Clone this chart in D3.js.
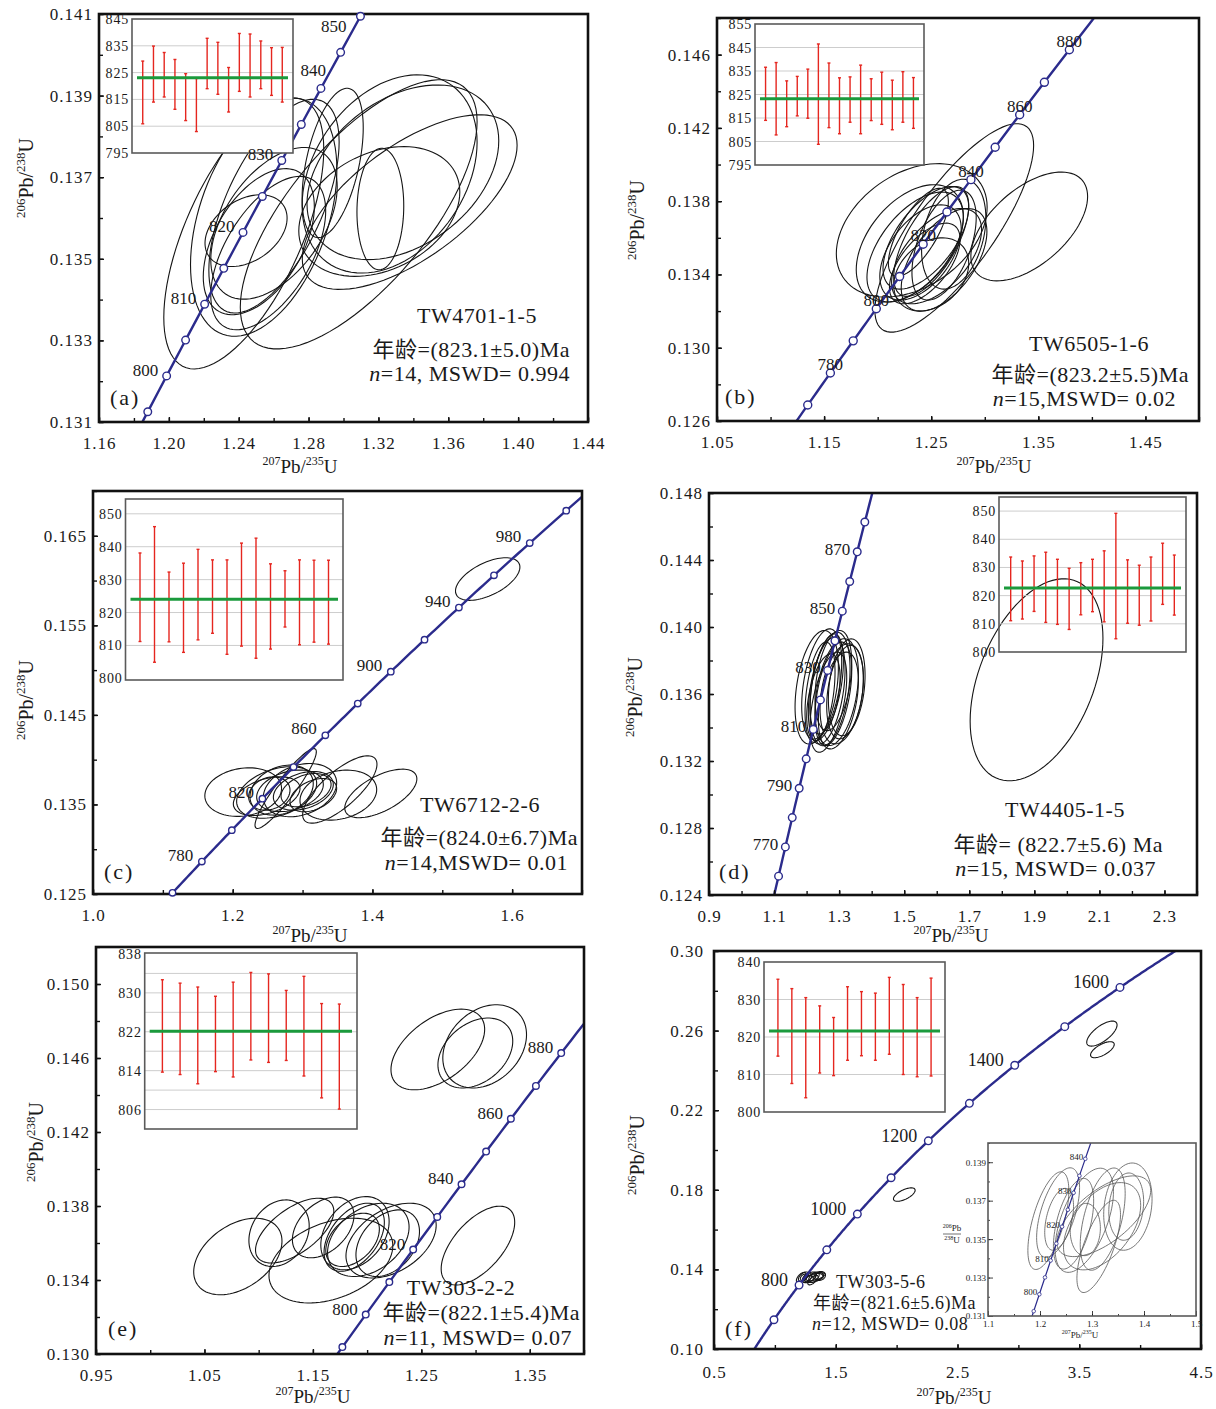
<!DOCTYPE html>
<html lang="zh">
  <head>
    <meta charset="utf-8" />
    <title>Zircon U-Pb concordia diagrams</title>
    <script src="https://cdnjs.cloudflare.com/ajax/libs/d3/7.8.5/d3.min.js"></script>
    <style type="text/css">
      body { margin: 0; background: #fff; }
      svg text { font-family: "Liberation Serif", "Times New Roman", "Noto Sans CJK SC", serif; fill: #1a1a1a; }
      .frame { fill: none; stroke: #111; stroke-width: 2.6; }
      .axis text { font-size: 17px; letter-spacing: 1px; }
      .axis line { stroke: #111; stroke-width: 1.4; }
      .ellipse { fill: none; stroke: #151515; stroke-width: 1.1; }
      .concordia { fill: none; stroke: #2b2b8c; stroke-width: 2.4; }
      .marker { fill: #fff; stroke: #2b2b8c; stroke-width: 1.4; }
      .inset-frame { fill: none; stroke: #5a5a5a; stroke-width: 1.6; }
      .inset-grid { stroke: #cdcdcd; stroke-width: 1; }
      .inset-bar { stroke: #e5261f; stroke-width: 1.4; }
      .inset-mean { stroke: #1b9a3c; stroke-width: 3; }
      .inset-label { font-size: 14px; letter-spacing: 0.8px; }
      .note { letter-spacing: 0.5px; }
      .mini .ellipse { stroke: #555; stroke-width: 0.8; }
      .mini .concordia { stroke-width: 1.2; }
      .mini .marker { stroke-width: 0.8; }
      .mini .axis text { font-size: 9px; letter-spacing: 0; }
      .mini .axis line { stroke-width: 0.8; }
    </style>
  </head>

  <body>
    <svg id="chart" width="1216" height="1409"></svg>

    <script>
      // Decay constants (1/yr) used to place the concordia curve and its age markers.
      const LAMBDA_238 = 1.55125e-10;
      const LAMBDA_235 = 9.8485e-10;

      // Error ellipses: [207Pb/235U, 206Pb/238U, half-width x, half-height y, rho]
      const ellipsesA = [
        [1.2429, 0.13562, 0.0458, 0.00332, 0.62],
        [1.2543, 0.13602, 0.0419, 0.00292, 0.40],
        [1.2602, 0.13629, 0.0373, 0.00262, 0.60],
        [1.2442, 0.13569, 0.0235, 0.00088, 0.35],
        [1.2515, 0.13542, 0.0318, 0.00179, 0.48],
        [1.2602, 0.13587, 0.0362, 0.00186, 0.48],
        [1.2569, 0.13514, 0.0329, 0.00188, 0.55],
        [1.3264, 0.13708, 0.0501, 0.00243, 0.32],
        [1.3379, 0.13639, 0.0615, 0.00214, 0.65],
        [1.3211, 0.13622, 0.0134, 0.00149, 0.05],
        [1.3087, 0.13609, 0.0678, 0.00330, 0.69],
        [1.3340, 0.13712, 0.0549, 0.00214, 0.36],
        [1.2938, 0.13735, 0.0175, 0.00183, 0.47],
        [1.3205, 0.13616, 0.0461, 0.00159, 0.30]
      ];
      const ellipsesB = [
        [1.3415, 0.13662, 0.0545, 0.00297, 0.55],
        [1.2715, 0.13654, 0.0741, 0.00569, 0.79],
        [1.2318, 0.13641, 0.0704, 0.00364, 0.35],
        [1.235, 0.1355, 0.045, 0.0030, 0.55],
        [1.245, 0.1360, 0.040, 0.0028, 0.60],
        [1.240, 0.1352, 0.038, 0.0026, 0.50],
        [1.250, 0.1358, 0.035, 0.0030, 0.65],
        [1.230, 0.1357, 0.050, 0.0032, 0.45],
        [1.255, 0.1350, 0.042, 0.0026, 0.55],
        [1.262, 0.1356, 0.030, 0.0030, 0.50],
        [1.244, 0.1346, 0.033, 0.0022, 0.60],
        [1.262, 0.1348, 0.040, 0.0028, 0.55],
        [1.238, 0.1363, 0.028, 0.0024, 0.70],
        [1.271, 0.1362, 0.030, 0.0030, 0.30],
        [1.250, 0.1340, 0.035, 0.0020, 0.30]
      ];
      const ellipsesC = [
        [1.565, 0.16017, 0.0461, 0.00238, 0.56],
        [1.412, 0.13623, 0.0516, 0.00271, 0.60],
        [1.3533, 0.13667, 0.0532, 0.00376, 0.75],
        [1.215, 0.13638, 0.0549, 0.00271, 0.15],
        [1.2758, 0.13678, 0.0439, 0.00446, 0.92],
        [1.270, 0.13660, 0.0453, 0.00279, 0.26],
        [1.2963, 0.13660, 0.0525, 0.00297, 0.27],
        [1.3011, 0.13652, 0.0429, 0.00216, 0.33],
        [1.2486, 0.13593, 0.0477, 0.00216, 0.40],
        [1.3512, 0.13604, 0.0549, 0.00279, 0.22],
        [1.2524, 0.13622, 0.0296, 0.00186, 0.20],
        [1.2820, 0.13652, 0.0477, 0.00232, 0.30],
        [1.3050, 0.13659, 0.0358, 0.00186, 0.35],
        [1.2629, 0.13634, 0.0573, 0.00288, 0.35],
        [1.3154, 0.13604, 0.0334, 0.00186, 0.40]
      ];
      const ellipsesD = [
        [1.2311, 0.13640, 0.0666, 0.00339, 0.35],
        [1.2464, 0.13660, 0.0615, 0.00329, 0.40],
        [1.2618, 0.13620, 0.0564, 0.00319, 0.40],
        [1.2721, 0.13630, 0.0615, 0.00339, 0.35],
        [1.2823, 0.13601, 0.0564, 0.00309, 0.45],
        [1.2926, 0.13611, 0.0666, 0.00319, 0.35],
        [1.3079, 0.13601, 0.0666, 0.00299, 0.30],
        [1.3182, 0.13611, 0.0564, 0.00279, 0.30],
        [1.2516, 0.13581, 0.0513, 0.00259, 0.45],
        [1.2669, 0.13551, 0.0564, 0.00299, 0.50],
        [1.2977, 0.13561, 0.0615, 0.00289, 0.40],
        [1.2413, 0.13611, 0.0461, 0.00299, 0.40],
        [1.2823, 0.13680, 0.0564, 0.00299, 0.35],
        [1.3233, 0.13640, 0.0564, 0.00289, 0.25],
        [1.2618, 0.13660, 0.0513, 0.00299, 0.45],
        [1.9068, 0.13685, 0.2041, 0.00603, 0.41]
      ];
      const ellipsesE = [
        [1.2652, 0.14646, 0.0432, 0.00218, 0.50],
        [1.3084, 0.14663, 0.0386, 0.00225, 0.28],
        [1.2998, 0.14627, 0.0345, 0.00189, 0.34],
        [1.3022, 0.13586, 0.0339, 0.00213, 0.59],
        [1.0808, 0.13527, 0.0407, 0.00207, 0.40],
        [1.1666, 0.13505, 0.0571, 0.00229, 0.35],
        [1.1188, 0.13653, 0.0278, 0.00180, 0.22],
        [1.1332, 0.13667, 0.0361, 0.00175, 0.60],
        [1.1595, 0.13684, 0.0284, 0.00164, 0.40],
        [1.1888, 0.13653, 0.0315, 0.00198, 0.32],
        [1.1881, 0.13631, 0.0278, 0.00184, 0.44],
        [1.2011, 0.13617, 0.0376, 0.00198, 0.35],
        [1.2221, 0.13613, 0.0416, 0.00202, 0.41],
        [1.1866, 0.13617, 0.0247, 0.00144, 0.40],
        [1.2190, 0.13599, 0.0293, 0.00180, 0.35]
      ];
      // TW303-5-6: the concordant group (also drawn in the small zoomed plot) and three older grains
      const ellipsesF = [
        [1.2161, 0.13596, 0.0394, 0.00254, 0.61],
        [1.2348, 0.13638, 0.0413, 0.00233, 0.56],
        [1.2368, 0.13603, 0.0277, 0.00161, 0.42],
        [1.2645, 0.13580, 0.0387, 0.00236, 0.50],
        [1.2852, 0.13598, 0.0561, 0.00271, 0.55],
        [1.2871, 0.13550, 0.0290, 0.00136, 0.05],
        [1.3206, 0.13604, 0.0432, 0.00266, 0.50],
        [1.3129, 0.13462, 0.0419, 0.00240, 0.69],
        [1.3690, 0.13669, 0.0465, 0.00227, 0.18],
        [1.3658, 0.13669, 0.0335, 0.00175, 0.15],
        [1.3226, 0.13619, 0.0903, 0.00210, 0.64],
        [1.3194, 0.13567, 0.0742, 0.00227, 0.48]
      ];
      const ellipsesFOld = [
        [2.063, 0.1776, 0.089, 0.00337, 0.64],
        [3.686, 0.2585, 0.1245, 0.00629, 0.69],
        [3.690, 0.2504, 0.0973, 0.00402, 0.66]
      ];

      // Concordia age markers (Ma) and the ones that carry a label
      const markersA = [795, 800, 805, 810, 815, 820, 825, 830, 835, 840, 845, 850];
      const markerLabelsA = [800, 810, 820, 830, 840, 850];
      const markersB = [770, 780, 790, 800, 810, 820, 830, 840, 850, 860, 870, 880];
      const markerLabelsB = [780, 800, 820, 840, 860, 880];
      const markersC = [760, 780, 800, 820, 840, 860, 880, 900, 920, 940, 960, 980, 1000];
      const markerLabelsC = [780, 820, 860, 900, 940, 980];
      const markersD = [760, 770, 780, 790, 800, 810, 820, 830, 840, 850, 860, 870, 880];
      const markerLabelsD = [770, 790, 810, 830, 850, 870];
      const markersE = [790, 800, 810, 820, 830, 840, 850, 860, 870, 880];
      const markerLabelsE = [800, 820, 840, 860, 880];
      const markersF = [700, 800, 900, 1000, 1100, 1200, 1300, 1400, 1500, 1600];
      const markerLabelsF = [800, 1000, 1200, 1400, 1600];
      const markersMini = [795, 800, 805, 810, 815, 820, 825, 830, 835, 840, 845];
      const markerLabelsMini = [800, 810, 820, 830, 840];

      // Axis tick labels
      const xLabelsA = [1.16, 1.20, 1.24, 1.28, 1.32, 1.36, 1.40, 1.44];
      const yLabelsA = [0.131, 0.133, 0.135, 0.137, 0.139, 0.141];
      const xLabelsB = [1.05, 1.15, 1.25, 1.35, 1.45];
      const yLabelsB = [0.126, 0.130, 0.134, 0.138, 0.142, 0.146];
      const xLabelsC = [1.0, 1.2, 1.4, 1.6];
      const yLabelsC = [0.125, 0.135, 0.145, 0.155, 0.165];
      const xLabelsD = [0.9, 1.1, 1.3, 1.5, 1.7, 1.9, 2.1, 2.3];
      const yLabelsD = [0.124, 0.128, 0.132, 0.136, 0.140, 0.144, 0.148];
      const xLabelsE = [0.95, 1.05, 1.15, 1.25, 1.35];
      const yLabelsE = [0.130, 0.134, 0.138, 0.142, 0.146, 0.150];
      const xLabelsF = [0.5, 1.5, 2.5, 3.5, 4.5];
      const yLabelsF = [0.10, 0.14, 0.18, 0.22, 0.26, 0.30];
      const xLabelsMini = [1.1, 1.2, 1.3, 1.4, 1.5];
      const yLabelsMini = [0.131, 0.133, 0.135, 0.137, 0.139];

      // Weighted-mean insets: 206Pb/238U age error bars [low, high] (Ma) and the mean
      const barsA = [[805.9, 829.3], [814.0, 834.9], [815.9, 832.5], [811.3, 829.9], [807.1, 824.6],
        [803.0, 822.8], [819.0, 837.8], [816.9, 836.3], [810.3, 826.9], [818.0, 839.6],
        [815.9, 839.4], [819.0, 836.8], [816.5, 834.3], [814.0, 834.4]];
      const meanA = 823.1;
      const barsB = [[814.0, 836.6], [807.8, 838.6], [811.3, 830.8], [815.9, 832.7], [814.9, 835.8],
        [803.8, 846.5], [810.9, 838.4], [808.3, 832.1], [813.2, 832.5], [808.3, 837.5],
        [813.9, 831.7], [812.3, 834.5], [810.0, 831.1], [813.2, 834.7], [810.6, 832.2]];
      const meanB = 823.2;
      const barsC = [[811.2, 838.1], [804.9, 846.1], [811.1, 832.3], [807.9, 835.0], [811.7, 839.2],
        [813.7, 836.0], [807.3, 836.0], [809.8, 841.1], [806.1, 842.6], [808.9, 834.8],
        [815.6, 832.7], [810.2, 836.0], [811.0, 835.9], [810.4, 835.9]];
      const meanC = 824.0;
      const barsD = [[811.1, 833.7], [811.7, 832.3], [814.4, 834.1], [810.5, 835.4], [809.8, 832.9],
        [808.0, 829.7], [813.2, 831.7], [814.3, 832.9], [810.7, 835.9], [804.7, 849.2],
        [810.2, 832.7], [809.5, 830.8], [811.0, 833.7], [816.9, 838.6], [813.1, 834.4]];
      const meanD = 822.7;
      const barsE = [[813.7, 832.7], [813.2, 832.0], [811.3, 831.2], [813.8, 829.3], [812.7, 832.2],
        [816.2, 834.2], [815.7, 833.9], [816.1, 830.5], [812.9, 833.4], [808.4, 827.8], [806.1, 827.7]];
      const meanE = 822.1;
      const barsF = [[814.9, 835.4], [807.6, 832.9], [803.8, 830.5], [810.4, 828.3], [809.7, 825.2],
        [813.8, 833.4], [815.0, 832.1], [813.8, 831.7], [815.4, 835.9], [810.0, 834.0],
        [809.4, 830.5], [809.6, 835.7]];
      const meanF = 821.6;

      const insetLabelsA = [795, 805, 815, 825, 835, 845];
      const insetGridA = [805, 815, 825, 835];
      const insetLabelsB = [795, 805, 815, 825, 835, 845, 855];
      const insetGridB = [805, 815, 825, 835, 845];
      const insetLabelsC = [800, 810, 820, 830, 840, 850];
      const insetGridC = [810, 820, 830, 840, 850];
      const insetLabelsD = [800, 810, 820, 830, 840, 850];
      const insetGridD = [810, 820, 830, 840, 850];
      const insetLabelsE = [806, 814, 822, 830, 838];
      const insetGridE = [806, 810, 814, 818, 822, 826, 830, 834];
      const insetLabelsF = [800, 810, 820, 830, 840];
      const insetGridF = [810, 820, 830];

      const svg = d3.select('#chart');
      const curveAges = d3.range(550, 1800, 2);

      function concordia (ageMa) {
        return [Math.exp(LAMBDA_235 * ageMa * 1e6) - 1, Math.exp(LAMBDA_238 * ageMa * 1e6) - 1];
      }

      const angles = d3.range(0, 360, 4).map(d => d * Math.PI / 180);
      function ellipsePath (e, x, y) {
        const [cx, cy, sx, sy, rho] = e;
        const k = Math.sqrt(1 - rho * rho);
        return d3.line()
          .curve(d3.curveLinearClosed)
          .x(t => x(cx + sx * Math.cos(t)))
          .y(t => y(cy + sy * (rho * Math.cos(t) + k * Math.sin(t))))(angles);
      }

      function steps (domain, step) {
        const n = Math.round((domain[1] - domain[0]) / step);
        return d3.range(n + 1).map(i => domain[0] + i * step);
      }

      // "206Pb/238U" style ratio with superscript mass numbers
      function ratioText (text, top, bottom, big, small) {
        text.append('tspan').style('font-size', small + 'px').attr('dy', -big * 0.4).text(top);
        text.append('tspan').style('font-size', big + 'px').attr('dy', big * 0.4).text('Pb/');
        text.append('tspan').style('font-size', small + 'px').attr('dy', -big * 0.4).text(bottom);
        text.append('tspan').style('font-size', big + 'px').attr('dy', big * 0.4).text('U');
      }

      function drawAxes (g, p, x, y) {
        const box = p.box;
        const xAxis = d3.axisBottom(x).tickValues(p.xLabels).tickSizeInner(-5).tickSizeOuter(0)
          .tickPadding(p.xPad || 15).tickFormat(d3.format(p.xFmt));
        const yAxis = d3.axisLeft(y).tickValues(p.yLabels).tickSizeInner(-5).tickSizeOuter(0)
          .tickPadding(p.yPad || 6).tickFormat(d3.format(p.yFmt));
        const xMinor = d3.axisBottom(x).tickValues(steps(p.xDomain, p.xMinor))
          .tickSizeInner(-p.minorLen).tickSizeOuter(0).tickFormat('');
        const yMinor = d3.axisLeft(y).tickValues(steps(p.yDomain, p.yMinor))
          .tickSizeInner(-p.minorLen).tickSizeOuter(0).tickFormat('');

        [xMinor, xAxis].forEach(a => g.append('g').attr('class', 'axis')
          .attr('transform', `translate(0,${box.bottom})`).call(a)
          .call(s => s.select('.domain').remove()));
        [yMinor, yAxis].forEach(a => g.append('g').attr('class', 'axis')
          .attr('transform', `translate(${box.left},0)`).call(a)
          .call(s => s.select('.domain').remove()));

        g.append('rect').attr('class', p.frameClass || 'frame')
          .attr('x', box.left).attr('y', box.top)
          .attr('width', box.right - box.left).attr('height', box.bottom - box.top);
      }

      function drawCurves (g, p, x, y) {
        const box = p.box;
        const clipId = 'clip-' + p.id;
        svg.append('clipPath').attr('id', clipId).append('rect')
          .attr('x', box.left).attr('y', box.top)
          .attr('width', box.right - box.left).attr('height', box.bottom - box.top);

        const plot = g.append('g').attr('clip-path', `url(#${clipId})`);
        plot.selectAll('path.ellipse').data(p.ellipses).join('path')
          .attr('class', 'ellipse')
          .attr('d', e => ellipsePath(e, x, y));

        plot.append('path')
          .datum(curveAges.map(concordia))
          .attr('class', 'concordia')
          .attr('d', d3.line().x(d => x(d[0])).y(d => y(d[1])));
      }

      function drawMarkers (g, p, x, y) {
        const inside = t => {
          const [cx, cy] = concordia(t);
          return cx >= p.xDomain[0] && cx <= p.xDomain[1] && cy >= p.yDomain[0] && cy <= p.yDomain[1];
        };

        g.selectAll('circle.marker').data(p.markers.filter(inside)).join('circle')
          .attr('class', 'marker')
          .attr('r', p.markerR)
          .attr('cx', t => x(concordia(t)[0]))
          .attr('cy', t => y(concordia(t)[1]));

        g.selectAll('text.age-label').data(p.markerLabels).join('text')
          .attr('class', 'age-label')
          .style('font-size', p.labelSize + 'px')
          .attr('text-anchor', p.labelAnchor)
          .attr('x', t => x(concordia(t)[0]) + (p.labelOverrides[t] || [p.labelDx])[0])
          .attr('y', t => y(concordia(t)[1]) + (p.labelOverrides[t] || [0, p.labelDy])[1])
          .text(t => t);
      }

      function drawInset (ins) {
        const b = ins.box;
        const g = svg.append('g');
        if (ins.fill) {
          g.append('rect').attr('x', b.left).attr('y', b.top)
            .attr('width', b.right - b.left).attr('height', b.bottom - b.top).attr('fill', '#fff');
        }
        const xi = d3.scalePoint().domain(d3.range(ins.bars.length)).range([b.left, b.right]).padding(1);
        const yi = d3.scaleLinear().domain(ins.domain).range([b.bottom, b.top]);

        g.selectAll('line.inset-grid').data(ins.grid).join('line')
          .attr('class', 'inset-grid')
          .attr('x1', b.left).attr('x2', b.right)
          .attr('y1', d => yi(d)).attr('y2', d => yi(d));

        const bar = g.selectAll('g.bar').data(ins.bars).join('g').attr('class', 'bar');
        bar.append('line').attr('class', 'inset-bar')
          .attr('x1', (d, i) => xi(i)).attr('x2', (d, i) => xi(i))
          .attr('y1', d => yi(d[0])).attr('y2', d => yi(d[1]));
        [0, 1].forEach(k => bar.append('line').attr('class', 'inset-bar').attr('stroke-width', 1)
          .attr('x1', (d, i) => xi(i) - 1.5).attr('x2', (d, i) => xi(i) + 1.5)
          .attr('y1', d => yi(d[k])).attr('y2', d => yi(d[k])));

        g.append('line').attr('class', 'inset-mean')
          .attr('x1', b.left + 5).attr('x2', b.right - 5)
          .attr('y1', yi(ins.mean)).attr('y2', yi(ins.mean));

        g.append('rect').attr('class', 'inset-frame')
          .attr('x', b.left).attr('y', b.top)
          .attr('width', b.right - b.left).attr('height', b.bottom - b.top);

        g.selectAll('text.inset-label').data(ins.labels).join('text')
          .attr('class', 'inset-label')
          .attr('text-anchor', 'end')
          .attr('x', b.left - 3)
          .attr('y', d => yi(d) + 5)
          .text(d => d);
      }

      function drawNotes (n) {
        const g = svg.append('g').style('font-size', n.size + 'px');
        g.append('text').attr('class', 'note').attr('x', n.sampleAt[0]).attr('y', n.sampleAt[1])
          .attr('text-anchor', n.sampleAt[2]).text(n.sample);
        g.append('text').attr('class', 'note').attr('x', n.ageAt[0]).attr('y', n.ageAt[1])
          .attr('text-anchor', n.ageAt[2]).text(n.age);
        const stats = g.append('text').attr('class', 'note').attr('x', n.statsAt[0]).attr('y', n.statsAt[1])
          .attr('text-anchor', n.statsAt[2]);
        stats.append('tspan').attr('font-style', 'italic').text('n');
        stats.append('tspan').text(n.stats);
        g.append('text').style('font-size', '22px').attr('letter-spacing', 2)
          .attr('x', n.letterAt[0]).attr('y', n.letterAt[1]).text(n.letter);
      }

      function drawPanel (p) {
        const g = svg.append('g');
        const x = d3.scaleLinear().domain(p.xDomain).range([p.box.left, p.box.right]);
        const y = d3.scaleLinear().domain(p.yDomain).range([p.box.bottom, p.box.top]);
        drawCurves(g, p, x, y);
        drawAxes(g, p, x, y);

        ratioText(g.append('text').attr('text-anchor', 'middle')
          .attr('transform', `translate(${p.yTitle[0]},${p.yTitle[1]}) rotate(-90)`), '206', '238', 20, 13);
        ratioText(g.append('text').attr('text-anchor', 'middle')
          .attr('x', p.xTitle[0]).attr('y', p.xTitle[1]), '207', '235', 19, 12);

        drawInset(p.inset);
        drawMarkers(svg.append('g'), p, x, y);
        drawNotes(p.notes);
      }

      const panels = [
        {
          id: 'a', box: { left: 99, right: 588, top: 14, bottom: 422 },
          xDomain: [1.16, 1.44], yDomain: [0.131, 0.141], xLabels: xLabelsA, yLabels: yLabelsA,
          xMinor: 0.02, yMinor: 0.001, minorLen: 4, xFmt: '.2f', yFmt: '.3f',
          ellipses: ellipsesA, markers: markersA, markerLabels: markerLabelsA, markerR: 3.8,
          labelSize: 17, labelAnchor: 'end', labelDx: -8.5, labelDy: 0,
          labelOverrides: { 840: [5, -12], 850: [-14, 16] },
          yTitle: [33, 178], xTitle: [300, 473],
          inset: { box: { left: 132, right: 293, top: 19, bottom: 153 }, domain: [795, 845],
            labels: insetLabelsA, grid: insetGridA, bars: barsA, mean: meanA, fill: true },
          notes: { size: 22, sample: 'TW4701-1-5', age: '年龄=(823.1±5.0)Ma', stats: '=14, MSWD= 0.994', letter: '(a)',
            sampleAt: [477, 323, 'middle'], ageAt: [570, 357, 'end'], statsAt: [570, 381, 'end'], letterAt: [110, 405] }
        },
        {
          id: 'b', box: { left: 717, right: 1199, top: 18, bottom: 421 },
          xDomain: [1.05, 1.50], yDomain: [0.126, 0.148], xLabels: xLabelsB, yLabels: yLabelsB,
          xMinor: 0.05, yMinor: 0.002, minorLen: 4, xFmt: '.2f', yFmt: '.3f',
          ellipses: ellipsesB, markers: markersB, markerLabels: markerLabelsB, markerR: 4,
          labelSize: 17, labelAnchor: 'middle', labelDx: 0, labelDy: -3, labelOverrides: {},
          yTitle: [644, 220], xTitle: [994, 473],
          inset: { box: { left: 755, right: 924, top: 24, bottom: 165 }, domain: [795, 855],
            labels: insetLabelsB, grid: insetGridB, bars: barsB, mean: meanB, fill: true },
          notes: { size: 22, sample: 'TW6505-1-6', age: '年龄=(823.2±5.5)Ma', stats: '=15,MSWD= 0.02', letter: '(b)',
            sampleAt: [1089, 351, 'middle'], ageAt: [1189, 382, 'end'], statsAt: [1176, 406, 'end'], letterAt: [725, 404] }
        },
        {
          id: 'c', box: { left: 93, right: 582, top: 491, bottom: 894 },
          xDomain: [1.0, 1.7], yDomain: [0.125, 0.170], xLabels: xLabelsC, yLabels: yLabelsC,
          xMinor: 0.1, yMinor: 0.005, minorLen: 4, xFmt: '.1f', yFmt: '.3f',
          ellipses: ellipsesC, markers: markersC, markerLabels: markerLabelsC, markerR: 3.2,
          labelSize: 17, labelAnchor: 'end', labelDx: -8.5, labelDy: -1, labelOverrides: {},
          yTitle: [33, 700], xTitle: [310, 942],
          inset: { box: { left: 125.5, right: 343, top: 499, bottom: 680 }, domain: [799.5, 854.5],
            labels: insetLabelsC, grid: insetGridC, bars: barsC, mean: meanC, fill: true },
          notes: { size: 22, sample: 'TW6712-2-6', age: '年龄=(824.0±6.7)Ma', stats: '=14,MSWD= 0.01', letter: '(c)',
            sampleAt: [480, 812, 'middle'], ageAt: [578, 845, 'end'], statsAt: [568, 870, 'end'], letterAt: [104, 879] }
        },
        {
          id: 'd', box: { left: 709, right: 1197, top: 493, bottom: 895 },
          xDomain: [0.9, 2.4], yDomain: [0.124, 0.148], xLabels: xLabelsD, yLabels: yLabelsD,
          xMinor: 0.1, yMinor: 0.002, minorLen: 4, xFmt: '.1f', yFmt: '.3f',
          ellipses: ellipsesD, markers: markersD, markerLabels: markerLabelsD, markerR: 3.8,
          labelSize: 17, labelAnchor: 'end', labelDx: -7, labelDy: 3, labelOverrides: {},
          yTitle: [642, 697], xTitle: [951, 942],
          inset: { box: { left: 999, right: 1186, top: 497, bottom: 652 }, domain: [800, 855],
            labels: insetLabelsD, grid: insetGridD, bars: barsD, mean: meanD, fill: false },
          notes: { size: 22, sample: 'TW4405-1-5', age: '年龄= (822.7±5.6) Ma', stats: '=15, MSWD= 0.037', letter: '(d)',
            sampleAt: [1065, 817, 'middle'], ageAt: [1163, 852, 'end'], statsAt: [1156, 876, 'end'], letterAt: [719, 879] }
        },
        {
          id: 'e', box: { left: 96, right: 584, top: 947, bottom: 1354 },
          xDomain: [0.95, 1.40], yDomain: [0.130, 0.152], xLabels: xLabelsE, yLabels: yLabelsE,
          xMinor: 0.05, yMinor: 0.002, minorLen: 4, xFmt: '.2f', yFmt: '.3f',
          ellipses: ellipsesE, markers: markersE, markerLabels: markerLabelsE, markerR: 3.3,
          labelSize: 17, labelAnchor: 'end', labelDx: -8, labelDy: 0, labelOverrides: {},
          yTitle: [43, 1142], xTitle: [313, 1403],
          inset: { box: { left: 144.7, right: 357, top: 953, bottom: 1129 }, domain: [802, 838.2],
            labels: insetLabelsE, grid: insetGridE, bars: barsE, mean: meanE, fill: true },
          notes: { size: 22, sample: 'TW303-2-2', age: '年龄=(822.1±5.4)Ma', stats: '=11, MSWD= 0.07', letter: '(e)',
            sampleAt: [461, 1295, 'middle'], ageAt: [580, 1320, 'end'], statsAt: [572, 1345, 'end'], letterAt: [108, 1336] }
        },
        {
          id: 'f', box: { left: 714, right: 1201, top: 951, bottom: 1349 },
          xDomain: [0.5, 4.5], yDomain: [0.10, 0.30], xLabels: xLabelsF, yLabels: yLabelsF,
          xMinor: 0.5, yMinor: 0.02, minorLen: 4, xFmt: '.1f', yFmt: '.2f', xPad: 17, yPad: 10,
          ellipses: ellipsesF.concat(ellipsesFOld), markers: markersF, markerLabels: markerLabelsF, markerR: 3.8,
          labelSize: 18, labelAnchor: 'end', labelDx: -11, labelDy: 1, labelOverrides: {},
          yTitle: [644, 1155], xTitle: [954, 1404],
          inset: { box: { left: 764, right: 945, top: 962, bottom: 1112 }, domain: [800, 840],
            labels: insetLabelsF, grid: insetGridF, bars: barsF, mean: meanF, fill: true },
          notes: { size: 18, sample: 'TW303-5-6', age: '年龄=(821.6±5.6)Ma', stats: '=12, MSWD= 0.08', letter: '(f)',
            sampleAt: [836, 1288, 'start'], ageAt: [813, 1309, 'start'], statsAt: [812, 1330, 'start'], letterAt: [725, 1336] }
        }
      ];

      panels.forEach(drawPanel);

      // Zoomed concordia of the TW303-5-6 cluster, lower right of panel (f)
      const mini = {
        id: 'mini', box: { left: 988, right: 1196, top: 1143, bottom: 1316 },
        xDomain: [1.1, 1.5], yDomain: [0.131, 0.140], xLabels: xLabelsMini, yLabels: yLabelsMini,
        xMinor: 0.05, yMinor: 0.001, minorLen: 2, xFmt: '.1f', yFmt: '.3f', xPad: 5, yPad: 2,
        frameClass: 'inset-frame',
        ellipses: ellipsesF, markers: markersMini, markerLabels: markerLabelsMini, markerR: 1.8,
        labelSize: 9, labelAnchor: 'end', labelDx: -2, labelDy: 1, labelOverrides: {}
      };
      svg.append('rect').attr('x', mini.box.left).attr('y', mini.box.top)
        .attr('width', mini.box.right - mini.box.left).attr('height', mini.box.bottom - mini.box.top)
        .attr('fill', '#fff');
      const miniG = svg.append('g').attr('class', 'mini');
      const mx = d3.scaleLinear().domain(mini.xDomain).range([mini.box.left, mini.box.right]);
      const my = d3.scaleLinear().domain(mini.yDomain).range([mini.box.bottom, mini.box.top]);
      drawCurves(miniG, mini, mx, my);
      drawAxes(miniG, mini, mx, my);
      drawMarkers(miniG, mini, mx, my);

      ratioText(miniG.append('text').attr('text-anchor', 'middle')
        .attr('x', 1080).attr('y', 1338), '207', '235', 9, 6);
      miniG.append('text').attr('text-anchor', 'middle').attr('x', 952).attr('y', 1231)
        .call(t => {
          t.append('tspan').style('font-size', '6px').attr('dy', -3).text('206');
          t.append('tspan').style('font-size', '9px').attr('dy', 3).text('Pb');
        });
      miniG.append('line').attr('x1', 943).attr('x2', 961).attr('y1', 1234).attr('y2', 1234)
        .attr('stroke', '#333').attr('stroke-width', 0.7);
      miniG.append('text').attr('text-anchor', 'middle').attr('x', 952).attr('y', 1243)
        .call(t => {
          t.append('tspan').style('font-size', '6px').attr('dy', -3).text('238');
          t.append('tspan').style('font-size', '9px').attr('dy', 3).text('U');
        });
    </script>
  </body>
</html>
